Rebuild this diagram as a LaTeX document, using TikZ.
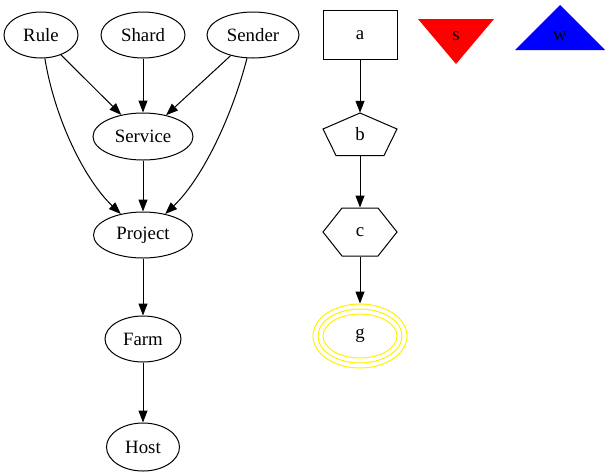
\documentclass[tikz,border=0pt]{standalone}
\usepackage{fontspec}
\setmainfont{Liberation Serif}
\usetikzlibrary{arrows.meta,shapes.geometric}
\begin{document}
\begin{tikzpicture}[x=1pt,y=-1pt,
  base/.style={inner sep=0pt, line width=1pt, font=\fontsize{18.8}{22}\selectfont},
  el/.style={base, ellipse, draw, minimum height=46pt},
  box/.style={base, rectangle, draw, minimum width=74pt, minimum height=49pt},
  ghost/.style={base, rectangle, draw=none, minimum width=74pt},
  ring/.style={yellow, line width=1pt},
  edge/.style={-{Triangle[length=12pt,width=9pt]}, line width=1pt},
  outline/.style={line width=1pt, line join=miter}
]
\useasboundingbox (0,0) rectangle (609,475);

% left graph
\node[el, minimum width=74pt] (Rule) at (41,35) {Rule};
\node[el, minimum width=84pt] (Shard) at (143,35) {Shard};
\node[el, minimum width=92pt] (Sender) at (253,35) {Sender};
\node[el, minimum width=100pt, minimum height=47pt] (Service) at (143,136.5) {Service};
\node[el, minimum width=99pt] (Project) at (143,235) {Project};
\node[el, minimum width=76pt] (Farm) at (143,339) {Farm};
\node[el, minimum width=73pt, minimum height=48pt] (Host) at (143,447) {Host};

\draw[edge] (Rule) -- (Service);
\draw[edge] (Shard) -- (Service);
\draw[edge] (Sender) -- (Service);
\draw[edge] (Rule) .. controls (55,120) and (85,180) .. (Project);
\draw[edge] (Sender) .. controls (231,120) and (201,180) .. (Project);
\draw[edge] (Service) -- (Project);
\draw[edge] (Project) -- (Farm);
\draw[edge] (Farm) -- (Host);

% right column
\node[box] (a) at (360,35) {a};

\coordinate (bc) at (360,134.5);
\draw[outline] ([shift={(0,-21.5)}]bc) -- ([shift={(37,-5.5)}]bc) -- ([shift={(24,21)}]bc)
  -- ([shift={(-24,21)}]bc) -- ([shift={(-37,-5.5)}]bc) -- cycle;
\node[ghost, minimum height=42.5pt] (b) at (bc) {b};

\coordinate (cc) at (360,232);
\draw[outline] ([shift={(-37,0)}]cc) -- ([shift={(-18,-24)}]cc) -- ([shift={(18,-24)}]cc)
  -- ([shift={(37,0)}]cc) -- ([shift={(18,24)}]cc) -- ([shift={(-18,24)}]cc) -- cycle;
\node[ghost, minimum height=48pt] (c) at (cc) {c};

\node[base, ellipse, draw=yellow, minimum width=94pt, minimum height=64pt] (g) at (360,336) {g};
\draw[ring] (g.center) ellipse [x radius=42pt, y radius=27pt];
\draw[ring] (g.center) ellipse [x radius=37pt, y radius=22pt];

\draw[edge] (a) -- (b);
\draw[edge] (b) -- (c);
\draw[edge] (c) -- (g);

% triangles
\coordinate (sc) at (456,36);
\fill[red] ([shift={(-38,-17)}]sc) -- ([shift={(38,-17)}]sc) -- ([shift={(0,28)}]sc) -- cycle;
\node[base] (s) at (sc) {s};

\coordinate (wc) at (560,36);
\fill[blue] ([shift={(-45,14)}]wc) -- ([shift={(45,14)}]wc) -- ([shift={(0,-31)}]wc) -- cycle;
\node[base] (w) at (wc) {w};
\end{tikzpicture}
\end{document}
